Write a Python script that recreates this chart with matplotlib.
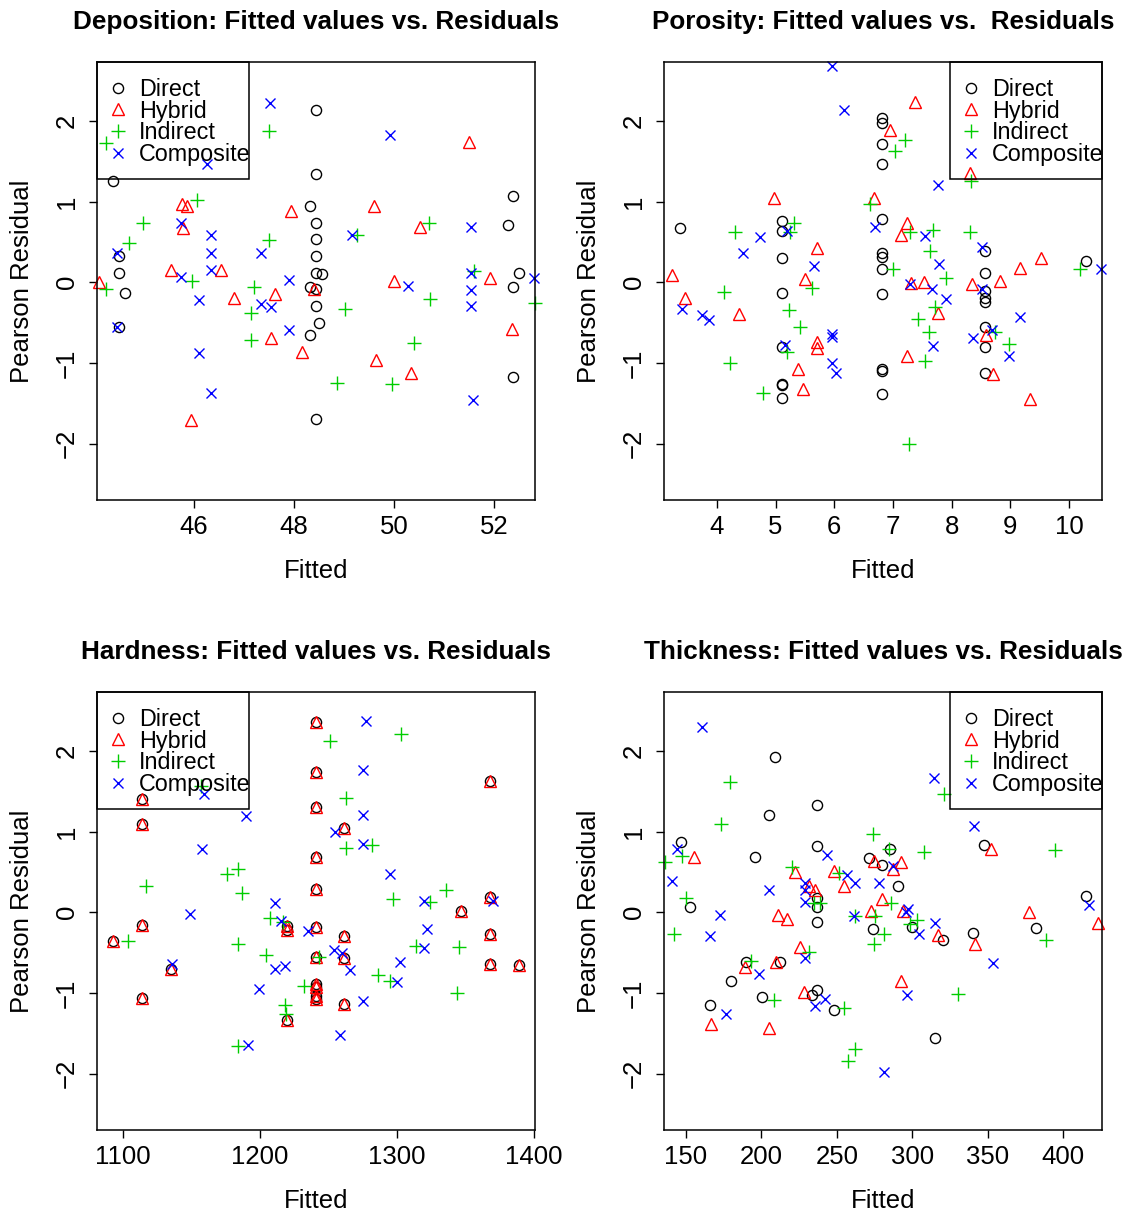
import matplotlib
matplotlib.use("Agg")
import matplotlib.pyplot as plt
from matplotlib.patches import Rectangle

plt.rcParams['font.family'] = ['Liberation Sans', 'DejaVu Sans']

# ---- Deposition ----
dep_direct_x = [44.39, 44.50, 44.50, 44.62, 44.50, 48.44, 48.43, 48.32, 48.43, 48.43, 48.43, 48.43, 48.56, 48.32,
                48.44, 48.43, 48.50, 48.32, 48.44, 52.37, 52.27, 52.49, 52.37, 52.37]
dep_direct_y = [1.25, 0.33, 0.12, -0.13, -0.55, 2.14, 1.34, 0.95, 0.73, 0.53, 0.33, 0.12, 0.10, -0.06,
                -0.08, -0.29, -0.50, -0.66, -1.70, 1.07, 0.71, 0.11, -0.06, -1.18]
dep_hybrid_x = [44.10, 45.77, 45.87, 45.79, 45.55, 46.55, 45.94, 46.80, 47.62, 47.54, 47.94, 48.15, 48.39, 49.59,
                50.00, 50.51, 49.63, 50.33, 51.49, 51.92, 52.35]
dep_hybrid_y = [0.00, 0.97, 0.94, 0.67, 0.15, 0.15, -1.71, -0.20, -0.15, -0.69, 0.88, -0.86, -0.08, 0.95,
                0.02, 0.69, -0.96, -1.13, 1.74, 0.05, -0.58]
dep_indirect_x = [44.25, 44.71, 44.99, 44.25, 46.07, 45.97, 47.49, 47.49, 47.21, 47.15, 47.15, 49.25, 49.02, 48.85,
                  50.69, 50.72, 50.40, 49.96, 51.59, 52.82]
dep_indirect_y = [1.73, 0.48, 0.73, -0.09, 1.02, 0.02, 1.87, 0.52, -0.06, -0.38, -0.72, 0.58, -0.33, -1.25,
                  0.74, -0.21, -0.75, -1.26, 0.14, -0.26]
dep_composite_x = [47.52, 46.27, 45.74, 46.35, 44.47, 46.35, 47.34, 45.74, 46.35, 47.89, 46.10, 47.34, 47.53,
                   44.47, 47.89, 46.10, 46.35, 49.92, 49.15, 51.54, 51.54, 50.27, 51.54, 51.54, 52.80, 51.57]
dep_composite_y = [2.22, 1.47, 0.73, 0.58, 0.36, 0.36, 0.36, 0.07, 0.15, 0.03, -0.22, -0.27, -0.31,
                   -0.55, -0.59, -0.88, -1.37, 1.83, 0.59, 0.68, 0.11, -0.05, -0.10, -0.29, 0.05, -1.46]

# ---- Porosity ----
por_direct_x = [6.82, 6.82, 6.82, 6.82, 3.37, 5.11, 5.11, 6.82, 5.11, 6.82, 6.82, 6.82, 5.11, 6.82, 5.11,
                6.82, 6.82, 5.11, 5.11, 5.11, 6.82, 8.56, 8.56, 8.56, 8.56, 8.56, 8.56, 8.56, 8.56, 10.28]
por_direct_y = [2.04, 1.97, 1.71, 1.46, 0.67, 0.76, 0.63, 0.78, 0.30, 0.36, 0.31, 0.16, -0.13, -0.15, -0.80,
                -1.07, -1.10, -1.26, -1.28, -1.43, -1.39, 0.39, 0.11, -0.11, -0.20, -0.24, -0.55, -0.80, -1.13, 0.26]
por_hybrid_x = [4.97, 6.67, 5.70, 3.24, 5.51, 3.45, 4.38, 5.70, 5.70, 5.38, 5.47, 7.38, 6.95, 8.31, 7.24,
                7.14, 9.52, 9.17, 7.30, 7.52, 8.35, 8.83, 7.76, 8.59, 7.24, 8.70, 9.34]
por_hybrid_y = [1.04, 1.05, 0.43, 0.09, 0.04, -0.19, -0.40, -0.74, -0.81, -1.08, -1.33, 2.23, 1.89, 1.35, 0.73,
                0.59, 0.30, 0.18, -0.01, 0.00, -0.02, 0.02, -0.38, -0.66, -0.92, -1.14, -1.45]
por_indirect_x = [6.61, 5.31, 5.25, 4.31, 5.62, 4.12, 5.23, 5.41, 5.19, 4.23, 4.79, 7.21, 7.04, 8.33, 7.29,
                  7.69, 8.32, 7.63, 10.18, 7.00, 7.90, 7.72, 7.43, 7.61, 8.73, 8.98, 7.54, 7.27]
por_indirect_y = [0.97, 0.73, 0.62, 0.62, -0.07, -0.12, -0.35, -0.55, -0.86, -1.00, -1.37, 1.76, 1.63, 1.26, 0.62,
                  0.65, 0.62, 0.39, 0.16, 0.16, 0.05, -0.31, -0.46, -0.62, -0.62, -0.77, -0.98, -2.01]
por_composite_x = [5.97, 6.17, 5.19, 4.74, 6.70, 4.44, 5.65, 3.40, 3.74, 3.86, 5.97, 5.97, 5.16, 5.97, 6.03,
                   7.77, 7.54, 8.52, 7.78, 10.55, 7.29, 7.66, 8.51, 7.91, 9.16, 8.69, 8.37, 7.68, 8.97]
por_composite_y = [2.68, 2.14, 0.64, 0.56, 0.69, 0.36, 0.20, -0.33, -0.41, -0.47, -0.64, -0.68, -0.78, -1.00, -1.13,
                   1.21, 0.57, 0.44, 0.23, 0.16, -0.02, -0.08, -0.08, -0.21, -0.43, -0.59, -0.69, -0.79, -0.91]

# ---- Hardness (Direct sits on the Hybrid points) ----
hard_hybrid_x = [1093, 1114, 1114, 1114, 1114, 1135, 1220, 1220, 1220,
                 1241, 1241, 1241, 1241, 1241, 1241, 1241, 1241, 1241, 1241, 1241,
                 1261, 1261, 1261, 1261, 1347, 1368, 1368, 1368, 1368, 1389]
hard_hybrid_y = [-0.36, 1.40, 1.10, -0.16, -1.06, -0.70, -0.17, -0.22, -1.34,
                 2.36, 1.74, 1.31, 0.69, 0.29, -0.18, -0.55, -0.89, -0.93, -1.04, -1.07,
                 1.05, -0.29, -0.57, -1.14, 0.02, 1.63, 0.19, -0.27, -0.64, -0.66]
hard_direct_x = list(hard_hybrid_x)
hard_direct_y = list(hard_hybrid_y)
hard_indirect_x = [1157, 1117, 1104, 1176, 1184, 1187, 1184, 1207, 1217, 1204, 1232, 1218, 1219, 1184,
                   1243, 1251, 1303, 1263, 1263, 1282, 1297, 1324, 1336, 1314, 1345, 1286, 1295, 1344]
hard_indirect_y = [1.57, 0.32, -0.36, 0.48, 0.53, 0.24, -0.39, -0.07, -0.12, -0.53, -0.92, -1.15, -1.26, -1.66,
                   -0.55, 2.12, 2.21, 1.42, 0.80, 0.83, 0.16, 0.13, 0.27, -0.42, -0.43, -0.78, -0.85, -1.00]
hard_composite_x = [1159, 1190, 1158, 1149, 1211, 1215, 1235, 1136, 1211, 1218, 1199, 1191, 1277, 1275, 1275,
                    1255, 1275, 1295, 1320, 1370, 1322, 1320, 1254, 1260, 1302, 1266, 1300, 1275, 1258]
hard_composite_y = [1.46, 1.19, 0.78, -0.02, 0.11, -0.11, -0.23, -0.64, -0.70, -0.67, -0.95, -1.64, 2.37, 1.76, 1.21,
                    0.99, 0.84, 0.47, 0.14, 0.14, -0.21, -0.44, -0.47, -0.51, -0.62, -0.72, -0.86, -1.10, -1.52]

# ---- Thickness ----
thick_direct_x = [208.8, 236.9, 204.8, 146.7, 236.9, 195.6, 271.2, 280.0, 236.9, 236.9, 152.9, 236.9, 273.8, 190.0,
                  212.5, 179.8, 200.4, 233.6, 236.9, 248.3, 165.7, 285.1, 347.4, 290.4, 299.9, 320.4, 340.1,
                  382.3, 415.3, 315.3]
thick_direct_y = [1.92, 1.33, 1.21, 0.87, 0.82, 0.69, 0.67, 0.59, 0.18, 0.06, 0.06, -0.12, -0.21, -0.62,
                  -0.62, -0.85, -1.05, -1.02, -0.97, -1.21, -1.15, 0.78, 0.83, 0.33, -0.18, -0.35, -0.26,
                  -0.19, 0.20, -1.56]
thick_hybrid_x = [155.1, 274.9, 222.1, 247.9, 254.6, 231.4, 235.8, 280.0, 272.9, 211.0, 217.0, 225.4, 188.9,
                  209.9, 228.1, 166.4, 204.8, 352.5, 292.6, 287.1, 293.9, 317.1, 341.4, 377.2, 423.2, 292.6]
thick_hybrid_y = [0.69, 0.64, 0.50, 0.51, 0.33, 0.33, 0.28, 0.16, 0.02, -0.04, -0.08, -0.43, -0.68,
                  -0.62, -0.99, -1.39, -1.44, 0.79, 0.62, 0.53, 0.02, -0.28, -0.39, 0.00, -0.13, -0.85]
thick_indirect_x = [179.4, 173.4, 273.8, 147.3, 220.3, 251.7, 150.0, 234.7, 239.1, 261.9, 275.1, 141.8, 281.1,
                    274.9, 231.4, 193.3, 208.2, 254.6, 261.9, 257.4, 135.9, 321.3, 394.9, 307.6, 285.9, 303.2,
                    298.8, 388.7, 330.4, 284.4]
thick_indirect_y = [1.61, 1.09, 0.97, 0.70, 0.56, 0.49, 0.18, 0.12, 0.12, -0.05, -0.05, -0.27, -0.27,
                    -0.39, -0.49, -0.60, -1.09, -1.19, -1.70, -1.84, 0.62, 1.46, 0.77, 0.75, 0.11, -0.10,
                    -0.14, -0.34, -1.01, 0.78]
thick_composite_x = [160.6, 144.0, 243.5, 256.8, 261.9, 277.8, 229.1, 229.1, 204.8, 140.7, 229.1, 261.2, 172.3,
                     166.1, 229.1, 198.6, 235.8, 242.0, 176.7, 281.1, 314.2, 340.8, 287.3, 297.0, 296.1, 304.3,
                     315.3, 353.6, 417.5, 296.6]
thick_composite_y = [2.30, 0.78, 0.71, 0.46, 0.36, 0.36, 0.36, 0.28, 0.28, 0.39, 0.13, -0.05, -0.04,
                     -0.29, -0.57, -0.77, -1.16, -1.08, -1.26, -1.98, 1.66, 1.07, 0.57, 0.04, 0.00, -0.27,
                     -0.13, -0.63, 0.09, -1.03]

labels = ["Direct", "Hybrid", "Indirect", "Composite"]
markers = ["o", "^", "+", "x"]
colors = ["black", "#FF0000", "#00CD00", "#0000FF"]
msizes = [7.3, 9, 9.5, 7.5]

panels = [
    ("Deposition: Fitted values vs. Residuals", [0.0859, 0.5878, 0.388, 0.3611], (44.06, 52.82), [46, 48, 50, 52],
     [(dep_direct_x, dep_direct_y), (dep_hybrid_x, dep_hybrid_y), (dep_indirect_x, dep_indirect_y),
      (dep_composite_x, dep_composite_y)], 0.0),
    ("Porosity: Fitted values vs.  Residuals", [0.5881, 0.5878, 0.388, 0.3611], (3.10, 10.56), [4, 5, 6, 7, 8, 9, 10],
     [(por_direct_x, por_direct_y), (por_hybrid_x, por_hybrid_y), (por_indirect_x, por_indirect_y),
      (por_composite_x, por_composite_y)], 0.653),
    ("Hardness: Fitted values vs. Residuals", [0.0859, 0.0684, 0.388, 0.3611], (1081, 1400.7), [1100, 1200, 1300, 1400],
     [(hard_direct_x, hard_direct_y), (hard_hybrid_x, hard_hybrid_y), (hard_indirect_x, hard_indirect_y),
      (hard_composite_x, hard_composite_y)], 0.0),
    ("Thickness: Fitted values vs. Residuals", [0.5881, 0.0684, 0.388, 0.3611], (135.4, 425.9), [150, 200, 250, 300, 350, 400],
     [(thick_direct_x, thick_direct_y), (thick_hybrid_x, thick_hybrid_y), (thick_indirect_x, thick_indirect_y),
      (thick_composite_x, thick_composite_y)], 0.653),
]

fig = plt.figure(figsize=(11.29, 12.13), dpi=100)
ax_px = 438.0  # axes side in pixels

for title, rect, xlim, xticks, series, leg_x in panels:
    ax = fig.add_axes(rect)
    for (xs, ys), lab, m, c, ms in zip(series, labels, markers, colors, msizes):
        ax.plot(xs, ys, linestyle="none", marker=m, color=c, mfc="none", mec=c, ms=ms, mew=1.0,
                label=lab, clip_on=False)
    ax.set_xlim(*xlim)
    ax.set_ylim(-2.70, 2.73)
    ax.set_xticks(xticks)
    ax.set_yticks([-2, -1, 0, 1, 2])
    ax.tick_params(direction="out", length=6, width=1, labelsize=18.5, pad=5)
    ax.tick_params(axis="y", pad=7)
    for lbl in ax.get_yticklabels():
        lbl.set_rotation(90)
        lbl.set_va("center")
    for sp in ax.spines.values():
        sp.set_linewidth(1.1)
    ax.set_title(title, fontsize=18.8, fontweight="bold", pad=24)
    ax.set_xlabel("Fitted", fontsize=18.5, labelpad=14)
    ax.set_ylabel("Pearson Residual", fontsize=18.5, labelpad=15)

    # legend box like R: tight frame, no fill
    ax.add_patch(Rectangle((leg_x, 0.7336), 0.347, 0.2664, transform=ax.transAxes, fill=False,
                           edgecolor="black", lw=1.1, clip_on=False, zorder=5))
    ax.legend(loc="upper left", bbox_to_anchor=(leg_x + 15.0 / ax_px, 1 - 16.0 / ax_px),
              borderaxespad=0, borderpad=0, fontsize=16.8, frameon=False,
              handlelength=0.5, handletextpad=0.65, labelspacing=-0.06)

fig.savefig("out.png", dpi=100)
